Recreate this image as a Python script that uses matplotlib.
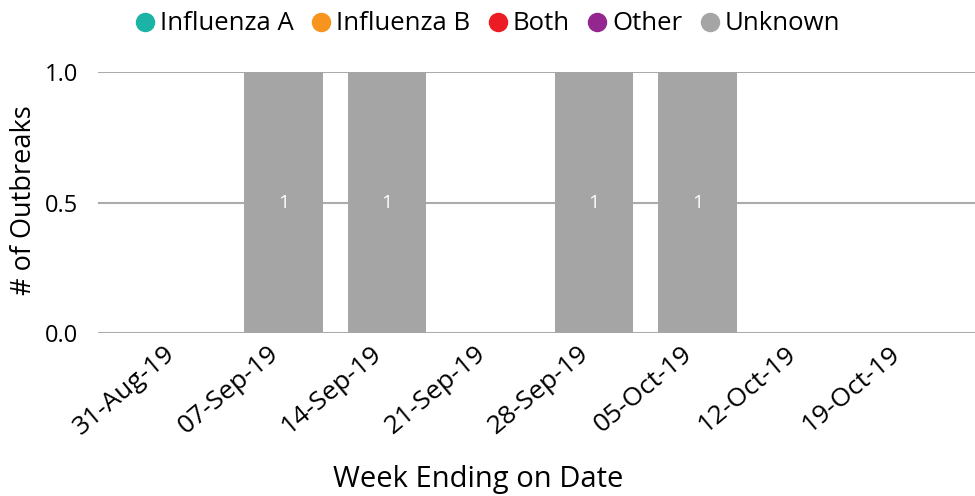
import matplotlib.pyplot as plt
from matplotlib.lines import Line2D
import matplotlib.transforms as mtransforms
import numpy as np

plt.rcParams['font.family'] = ['Open Sans', 'DejaVu Sans']

weeks = ["31-Aug-19", "07-Sep-19", "14-Sep-19", "21-Sep-19",
         "28-Sep-19", "05-Oct-19", "12-Oct-19", "19-Oct-19"]
influenza_a = [0, 0, 0, 0, 0, 0, 0, 0]
influenza_b = [0, 0, 0, 0, 0, 0, 0, 0]
both = [0, 0, 0, 0, 0, 0, 0, 0]
other = [0, 0, 0, 0, 0, 0, 0, 0]
unknown = [0, 1, 1, 0, 1, 1, 0, 0]

series = [("Influenza A", influenza_a, "#1BB3A5"),
          ("Influenza B", influenza_b, "#F7941D"),
          ("Both", both, "#ED1C24"),
          ("Other", other, "#93278F"),
          ("Unknown", unknown, "#A5A5A5")]

fig = plt.figure(figsize=(9.75, 4.96), dpi=100)
ax = fig.add_axes([98 / 975, 1 - 333 / 496, 1 - 98 / 975, (333 - 72) / 496])

x = np.arange(len(weeks))
bottom = np.zeros(len(weeks))
for name, vals, color in series:
    vals = np.array(vals, dtype=float)
    bars = ax.bar(x, vals, width=0.76, bottom=bottom, color=color, zorder=2)
    # label only the non-empty segments
    for b, v in zip(bars, vals):
        if v > 0:
            ax.text(b.get_x() + b.get_width() / 2, b.get_y() + v / 2, f"{v:g}",
                    ha="center", va="center", color="white", fontsize=14)
    bottom += vals

ax.set_xlim(-0.79, 7.68)
ax.set_ylim(0, 1)
ax.set_yticks([0, 0.5, 1.0])
ax.set_yticklabels(["0.0", "0.5", "1.0"])
ax.yaxis.grid(True, color="#ABABAB", linewidth=1.5, zorder=0)
for s in ["top", "right", "left", "bottom"]:
    ax.spines[s].set_visible(False)
ax.tick_params(axis="y", length=0, pad=14, labelsize=17)
ax.tick_params(axis="x", length=0, pad=6, labelsize=19)
ax.set_xticks(x)
ax.set_xticklabels(weeks, rotation=40, ha="right", va="top", rotation_mode="anchor")
# shift rotated labels a bit to the left, like the original
shift = mtransforms.ScaledTranslation(-16 / 100, 0, fig.dpi_scale_trans)
for lbl in ax.get_xticklabels():
    lbl.set_transform(lbl.get_transform() + shift)

fig.text(478 / 975, 1 - 480 / 496, "Week Ending on Date", ha="center", va="center", fontsize=21)
fig.text(24 / 975, 1 - 200 / 496, "# of Outbreaks", ha="center", va="center",
         rotation=90, fontsize=19.5)

handles = [Line2D([], [], marker="o", linestyle="", markersize=13, color=c) for _, _, c in series]
fig.legend(handles, [n for n, _, _ in series], loc="center", bbox_to_anchor=(485 / 975, 1 - 24 / 496),
           ncol=5, frameon=False, fontsize=18.5, handletextpad=0.0, columnspacing=0.45,
           handlelength=1.2)

fig.savefig("out.png", dpi=100)
